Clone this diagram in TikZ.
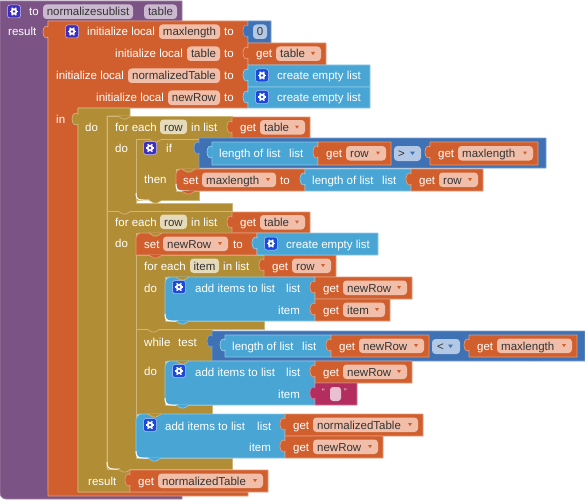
\documentclass[tikz,border=0pt]{standalone}
\usepackage{fontspec}
\setmainfont{Liberation Sans}
\definecolor{cpur}{HTML}{7C5385}\definecolor{cpurE}{HTML}{A184A8}\definecolor{cpurP}{HTML}{CBBACF}
\definecolor{cora}{HTML}{D05F2D}\definecolor{coraE}{HTML}{E29A78}\definecolor{coraP}{HTML}{F1BFA9}
\definecolor{cgol}{HTML}{B18E35}\definecolor{cgolE}{HTML}{CDB677}\definecolor{cgolP}{HTML}{E5DAB9}
\definecolor{cblu}{HTML}{49A6D4}\definecolor{cbluE}{HTML}{8CC8E5}
\definecolor{cdbl}{HTML}{3F71B5}\definecolor{cdblE}{HTML}{79A0D0}\definecolor{cdblP}{HTML}{B2C8E4}
\definecolor{cpin}{HTML}{B32D5E}\definecolor{cpinE}{HTML}{CE7196}\definecolor{cpinP}{HTML}{E8C0D0}
\definecolor{cgearA}{HTML}{3F2FBF}\definecolor{cgearB}{HTML}{1A49DC}
\definecolor{ctxt}{HTML}{333333}
\newcounter{lbl}
\tikzset{
  wtext/.style={text=white,inner sep=0pt,anchor=base west,font=\fontsize{11.5}{13}\selectfont},
  ptext/.style={text=ctxt,inner sep=0pt,anchor=base west,font=\fontsize{11.5}{13}\selectfont},
  ctext/.style={text=ctxt,inner sep=0pt,anchor=base,font=\fontsize{11.5}{13}\selectfont},
  bshape/.style={line width=0.7pt,line join=round},
  pillshape/.style={rounded corners=3.5pt},
  hilite/.style={draw=white,line width=1pt}
}
% white label
\newcommand{\bkL}[3]{\stepcounter{lbl}\node[wtext] (t\thelbl) at ({#1},{#2+4}) {#3};}
% pill with centred text: x1 x2 yc text colour
\newcommand{\bkP}[5]{\fill[#5,pillshape] ({#1},{#3-7.5}) rectangle ({#2},{#3+7});
  \stepcounter{lbl}\node[ctext] (t\thelbl) at ({(#1+#2)/2},{#3+4}) {#4};}
% pill with dropdown: x1 x2 yc text fill arrowcolour
\newcommand{\bkD}[6]{\fill[#5,pillshape] ({#1},{#3-7.5}) rectangle ({#2},{#3+7});
  \stepcounter{lbl}\node[ptext] (t\thelbl) at ({#1+4},{#3+4}) {#4};
  \fill[#6] ({#2-10},{#3-2}) -- ({#2-6},{#3-2}) -- ({#2-8},{#3+1.2}) -- cycle;}
% value block: x1 y1 x2 y2 colour edge
\newcommand{\bkV}[6]{\draw[bshape,fill=#5,draw=#6] (#1,#2) -- (#3,#2) -- (#3,#4) -- (#1,#4) -- (#1,#2+15)
  .. controls (#1-1,#2+17) and (#1-5,#2+16) .. (#1-5,#2+10)
  .. controls (#1-5,#2+4) and (#1-1,#2+3) .. (#1,#2+5) -- cycle;}
% get block: x1 y1 x2 y2 name
\newcommand{\bkGet}[5]{\bkV{#1}{#2}{#3}{#4}{cora}{coraE}
  \bkL{#1+8}{(#2+#4)/2}{get}
  \bkD{#1+28}{#3-5}{(#2+#4)/2}{#5}{coraP}{cora}}
% gear: cx cy colour
\newcommand{\bkG}[3]{\fill[#3,rounded corners=2.5pt,draw=white!70!#3,line width=0.5pt] ({#1-6.5},{#2-6.5}) rectangle ({#1+6.5},{#2+6.5});
  \foreach \a in {0,60,...,300}{\draw[white,line width=1.3pt] ({#1},{#2}) -- ++(\a:4.4);}
  \fill[white] ({#1},{#2}) circle (3.3);\fill[#3] ({#1},{#2}) circle (1.4);}
% statement bump, pointing down: x y colour edge
\newcommand{\bkB}[4]{\draw[bshape,fill=#3,draw=#4] (#1,#2) .. controls (#1+2,#2) and (#1+2,#2+3) .. (#1+5,#2+3)
  -- (#1+8,#2+3) .. controls (#1+11,#2+3) and (#1+11,#2) .. (#1+13,#2);}
% white rounded inner corner
\newcommand{\bkH}[2]{\draw[hilite] (#1,#2-7) .. controls (#1,#2-1.5) and (#1+1.5,#2) .. (#1+7,#2) -- (#1+13,#2);}
% blue statement: x1 y1 x2 y2
\newcommand{\bkA}[4]{\draw[bshape,fill=cblu,draw=cbluE] (#3,#2) -- (#3,#4) [rounded corners=6pt] -- (#1,#4) -- (#1,#2) -- (#1+8,#2) [sharp corners] -- cycle;}
% length of list block
\newcommand{\bkLen}[4]{\bkV{#1}{#2}{#3}{#4}{cblu}{cbluE}
  \bkL{#1+7}{(#2+#4)/2}{length of list}\bkL{#1+77}{(#2+#4)/2}{list}}
% create empty list
\newcommand{\bkC}[4]{\bkV{#1}{#2}{#3}{#4}{cblu}{cbluE}
  \bkG{#1+14}{(#2+#4)/2-0.5}{cgearB}\bkL{#1+29}{(#2+#4)/2}{create empty list}}
\begin{document}
\begin{tikzpicture}[x=1pt,y=-1pt]
\useasboundingbox (0,0) rectangle (585,500);
% procedure
\draw[bshape,fill=cpur,draw=cpurE] (0,1) -- (182,1) -- (182,21) -- (48,21) -- (48,490) -- (182,490) -- (182,499) [rounded corners=6pt] -- (0,499) [sharp corners] -- cycle;
\bkG{14}{11.5}{cgearA}
\bkL{29}{12}{to}
\bkP{43}{133}{12}{normalizesublist}{cpurP}
\bkP{144}{177}{12}{table}{cpurP}
\bkL{8}{32}{result}
% initialize local
\draw[bshape,fill=cora,draw=coraE] (48,21) -- (248,21) -- (248,108) -- (78,108) -- (78,492) -- (248,492) -- (248,496) -- (48,496) -- (48,37)
  .. controls (47,39) and (43,38) .. (43,32) .. controls (43,26) and (47,25) .. (48,27) -- cycle;
\bkG{72}{31.5}{cgearA}
\bkL{87}{32}{initialize local}\bkP{159}{220}{32}{maxlength}{coraP}\bkL{224}{32}{to}
\bkL{115}{54}{initialize local}\bkP{187}{220}{54}{table}{coraP}\bkL{224}{54}{to}
\bkL{56}{76}{initialize local}\bkP{128}{220}{76}{normalizedTable}{coraP}\bkL{224}{76}{to}
\bkL{96}{98}{initialize local}\bkP{168}{220}{98}{newRow}{coraP}\bkL{224}{98}{to}
\bkL{56}{119}{in}
\bkV{248}{21}{271}{43}{cdbl}{cdblE}
\bkP{253}{267}{32}{0}{cdblP}
\bkGet{248}{43}{326}{65}{table}
\bkC{248}{65}{370}{87}
\bkC{248}{87}{370}{108}
% do-result
\draw[bshape,fill=cgol,draw=cgolE] (78,108) -- (130,108) -- (130,116) -- (107,116) -- (107,469) -- (130,469) -- (130,492) -- (78,492) -- (78,124)
  .. controls (77,126) and (72,125) .. (72,119) .. controls (72,113) and (77,112) .. (78,114) -- cycle;
\bkL{85}{127}{do}
\bkL{88}{481}{result}
% for each 1
\draw[bshape,fill=cgol,draw=cgolE] (107,116) -- (232,116) -- (232,139) -- (136,139) -- (136,203) -- (232,203) -- (232,211) -- (107,211) -- cycle;
\bkB{118}{116}{cgol}{cgolE}
\bkL{115}{127}{for each}\bkP{160}{187}{127}{row}{cgolP}\bkL{191}{127}{in list}
\bkL{115}{148}{do}
\bkGet{232}{117}{310}{138}{table}
% if
\draw[bshape,fill=cgol,draw=cgolE] (136,139) -- (199,139) -- (199,169) -- (176,169) -- (176,191) -- (199,191) -- (199,200) -- (136,200) -- cycle;
\bkB{149}{139}{cgol}{cgolE}
\bkG{150}{148}{cgearA}
\bkL{166}{148}{if}
\bkL{144}{179}{then}
\bkH{136}{200}
\bkB{149}{200}{cgol}{cgolE}
% compare 1
\bkV{199}{138}{546}{168}{cdbl}{cdblE}
\bkLen{212}{142}{318}{165}
\bkGet{318}{142}{391}{165}{row}
\fill[cdblP,pillshape] (394,146) rectangle (421,161);
\bkL{398}{153.5}{\textcolor{ctxt}{>}}
\fill[cdbl] (410,151.5) -- (415,151.5) -- (412.5,155) -- cycle;
\bkGet{430}{142}{538}{165}{maxlength}
% set maxlength
\draw[bshape,fill=cora,draw=coraE] (305,169) -- (305,191) [rounded corners=5pt] -- (176,191) -- (176,169) -- (184,169) [sharp corners] -- cycle;
\bkH{176}{191}
\bkB{182}{191}{cora}{coraE}
\bkB{182}{169}{cgol}{cgolE}
\bkL{183}{180}{set}\bkD{202}{276}{180}{maxlength}{coraP}{cora}\bkL{280}{180}{to}
\bkLen{305}{169}{411}{191}
\bkGet{411}{169}{483}{191}{row}
% for each 2
\draw[bshape,fill=cgol,draw=cgolE] (107,211) -- (232,211) -- (232,233) -- (136,233) -- (136,458) -- (232,458) -- (232,469) -- (107,469) -- cycle;
\bkB{118}{211}{cgol}{cgolE}
\bkL{115}{222}{for each}\bkP{160}{187}{222}{row}{cgolP}\bkL{191}{222}{in list}
\bkL{115}{243}{do}
\bkGet{232}{212}{310}{233}{table}
\bkH{107}{469}
\bkB{118}{469}{cgol}{cgolE}
% for each item
\draw[bshape,fill=cgol,draw=cgolE] (136,255) -- (264,255) -- (264,277) -- (165,277) -- (165,321) -- (264,321) -- (264,329) -- (136,329) -- cycle;
\bkL{144}{266}{for each}\bkP{190}{219}{266}{item}{cgolP}\bkL{223}{266}{in list}
\bkL{144}{288}{do}
\bkGet{264}{255}{336}{277}{row}
% set newRow
\draw[bshape,fill=cora,draw=coraE] (257,233) -- (257,255) -- (136,255) [rounded corners=5pt] -- (136,233) -- (144,233) [sharp corners] -- cycle;
\bkB{149}{233}{cgol}{cgolE}
\bkB{149}{255}{cora}{coraE}
\bkL{144}{244}{set}\bkD{163}{228}{244}{newRow}{coraP}{cora}\bkL{233}{244}{to}
\bkC{257}{233}{378}{255}
% add 1
\bkA{165}{277}{315}{321}
\bkB{176}{277}{cgol}{cgolE}
\bkH{165}{321}
\bkB{176}{321}{cblu}{cbluE}
\bkG{179}{287}{cgearB}
\bkL{195}{288}{add items to list}\bkL{286}{288}{list}\bkL{278}{310}{item}
\bkGet{315}{277}{412}{299}{newRow}
\bkGet{315}{299}{390}{321}{item}
% while
\draw[bshape,fill=cgol,draw=cgolE] (136,329) -- (212,329) -- (212,361) -- (165,361) -- (165,405) -- (212,405) -- (212,414) -- (136,414) -- cycle;
\bkB{147}{329}{cgol}{cgolE}
\bkL{144}{342}{while}\bkL{178}{342}{test}
\bkL{144}{371}{do}
\bkV{212}{331}{585}{361}{cdbl}{cdblE}
\bkLen{225}{335}{331}{357}
\bkGet{331}{335}{429}{357}{newRow}
\fill[cdblP,pillshape] (432,339) rectangle (460,354);
\bkL{437}{346}{\textcolor{ctxt}{<}}
\fill[cdbl] (448,344.5) -- (453,344.5) -- (450.5,348) -- cycle;
\bkGet{469}{335}{577}{357}{maxlength}
% add 2
\bkA{165}{361}{315}{405}
\bkB{176}{361}{cgol}{cgolE}
\bkH{165}{405}
\bkB{176}{405}{cblu}{cbluE}
\bkG{179}{371}{cgearB}
\bkL{195}{372}{add items to list}\bkL{286}{372}{list}\bkL{278}{394}{item}
\bkGet{315}{361}{412}{383}{newRow}
\bkV{315}{383}{357}{405}{cpin}{cpinE}
\fill[cpinP,rounded corners=3pt] (330,387) rectangle (341,401);
\stepcounter{lbl}\node[wtext,font=\fontsize{8}{9}\selectfont] (t\thelbl) at (322,394) {“};
\stepcounter{lbl}\node[wtext,font=\fontsize{8}{9}\selectfont] (t\thelbl) at (344,394) {”};
% add 3
\bkA{136}{414}{285}{458}
\bkB{148}{414}{cgol}{cgolE}
\bkH{136}{458}
\bkB{148}{458}{cblu}{cbluE}
\bkG{150}{425}{cgearB}
\bkL{165}{426}{add items to list}\bkL{257}{426}{list}\bkL{249}{447}{item}
\bkGet{285}{414}{423}{436}{normalizedTable}
\bkGet{285}{436}{383}{458}{newRow}
% final result
\bkGet{130}{470}{268}{492}{normalizedTable}
\end{tikzpicture}
\end{document}
